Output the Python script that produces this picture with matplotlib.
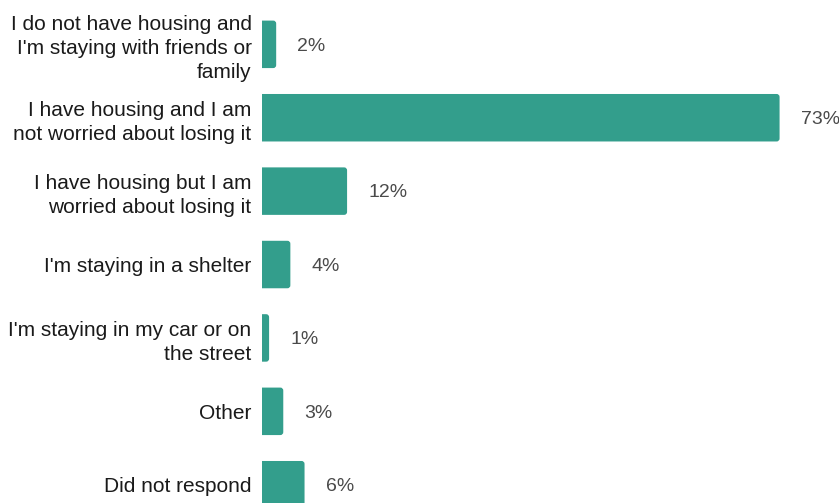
import matplotlib.pyplot as plt
from matplotlib.patches import FancyBboxPatch

plt.rcParams['font.family'] = ['Liberation Sans', 'DejaVu Sans']

categories = [
    "I do not have housing and\nI'm staying with friends or\nfamily",
    "I have housing and I am\nnot worried about losing it",
    "I have housing but I am\nworried about losing it",
    "I'm staying in a shelter",
    "I'm staying in my car or on\nthe street",
    "Other",
    "Did not respond",
]
values = [2, 73, 12, 4, 1, 3, 6]

bar_color = "#339e8c"

fig = plt.figure(figsize=(8.39, 5.03), dpi=100)
ax = fig.add_axes([262 / 839, 0, 577 / 839, 1])

pos = list(range(len(categories)))
bars = ax.barh(pos, values, height=0.647, color=bar_color)

# swap the plain bars for ones with rounded right-hand corners
for b in bars:
    x, y = b.get_x(), b.get_y()
    w, h = b.get_width(), b.get_height()
    b.set_visible(False)
    r = 0.42
    patch = FancyBboxPatch((x - r, y), w + r, h,
                           boxstyle="round,pad=0,rounding_size=%.2f" % r,
                           mutation_aspect=0.0965,
                           facecolor=bar_color, edgecolor="none")
    ax.add_patch(patch)

for p, v in zip(pos, values):
    ax.text(v + 3.0, p + 0.025, "%d%%" % v, va="center", ha="left",
            fontsize=14, color="#4a4a4a", clip_on=False)

ax.set_xlim(0, 577 / 7.09)
ax.set_ylim(6.249, -0.604)
ax.set_yticks(pos)
ax.set_yticklabels(categories, fontsize=15, color="#1a1a1a", linespacing=1.32)
ax.tick_params(axis="y", length=0, pad=7.5)
ax.set_xticks([])
for s in ax.spines.values():
    s.set_visible(False)

plt.savefig("out.png", dpi=100)
